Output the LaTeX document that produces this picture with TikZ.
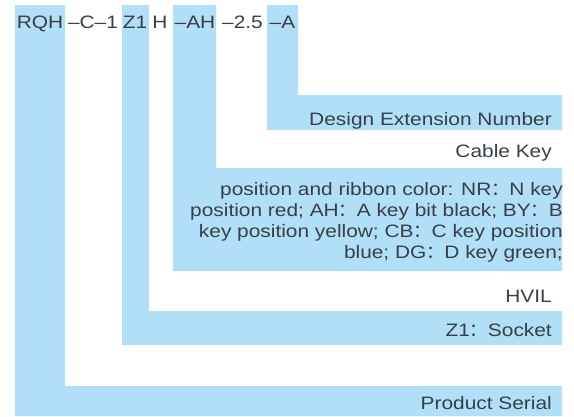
\documentclass[tikz,border=0pt]{standalone}
\usepackage{fontspec}
\setmainfont{Liberation Sans}[FakeStretch=1.16]
\newfontfamily\cjkfont{Noto Sans CJK SC}
\newcommand\fcolon{{\cjkfont ：}}
\definecolor{barblue}{RGB}{176,223,247}
\definecolor{txtgray}{RGB}{55,63,72}
\begin{document}
\begin{tikzpicture}[x=1pt,y=-1pt,
  bar/.style={fill=barblue,draw=none},
  code/.style={inner sep=0pt,anchor=base,text=txtgray,font=\fontsize{18}{21}\selectfont},
  lbl/.style={inner sep=0pt,anchor=base east,text=txtgray,font=\fontsize{18}{21}\selectfont}]
\useasboundingbox (0,0) rectangle (574,416);
\fill[white] (0,0) rectangle (574,416);
% L-shaped bars
\path[bar] (15,5) -- (65,5) -- (65,386) -- (562,386) -- (562,416) -- (15,416) -- cycle;
\path[bar] (122,5) -- (149,5) -- (149,311) -- (562,311) -- (562,345) -- (122,345) -- cycle;
\path[bar] (173,5) -- (216,5) -- (216,168) -- (562,168) -- (562,271) -- (173,271) -- cycle;
\path[bar] (267,5) -- (298,5) -- (298,95) -- (562,95) -- (562,130) -- (267,130) -- cycle;
% code
\node[code] (c1) at (40,28) {RQH};
\node[code] (c2) at (93,28) {–C–1};
\node[code] (c3) at (135,28) {Z1};
\node[code] (c4) at (160,28) {H};
\node[code] (c5) at (195,28) {–AH};
\node[code] (c6) at (242.5,28) {–2.5};
\node[code] (c7) at (282.5,28) {–A};
% labels
\node[lbl] (design) at (552,125) {Design Extension Number};
\node[lbl] (cable) at (552,157) {Cable Key};
\node[lbl] (k1) at (563,195) {position and ribbon color: NR\fcolon N key};
\node[lbl] (k2) at (563,216) {position red; AH\fcolon A key bit black; BY\fcolon B};
\node[lbl] (k3) at (563,237) {key position yellow; CB\fcolon C key position};
\node[lbl] (k4) at (563,258) {blue; DG\fcolon D key green;};
\node[lbl] (hvil) at (552,302) {HVIL};
\node[lbl] (socket) at (552,336) {Z1\fcolon Socket};
\node[lbl] (serial) at (552,409) {Product Serial};
\end{tikzpicture}
\end{document}
